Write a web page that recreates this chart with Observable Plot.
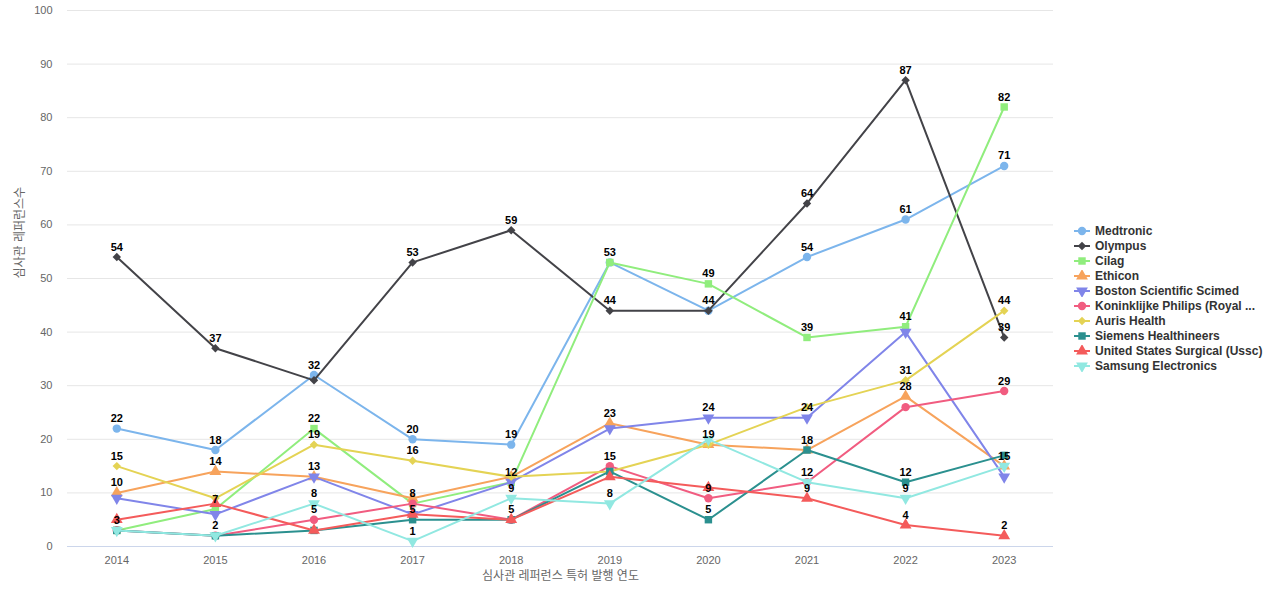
<!DOCTYPE html>
<html>
<head>
<meta charset="utf-8">
<script src="https://cdn.jsdelivr.net/npm/d3@7"></script>
<script src="https://cdn.jsdelivr.net/npm/@observablehq/plot@0.6"></script>
<style>
  html, body { margin: 0; padding: 0; background: #fff; }
  body { width: 1280px; height: 600px; position: relative; overflow: hidden;
         font-family: "Liberation Sans", Arial, "Noto Sans CJK KR", sans-serif; }
  #chart { position: absolute; left: 0; top: 0; }
  #legend { position: absolute; left: 1074px; top: 223px; }
  .item { display: flex; align-items: center; height: 15px; font-size: 12px; font-weight: bold; color: #333; white-space: nowrap; }
  .item svg { margin-right: 5px; }
</style>
</head>
<body>
<div id="chart"></div>
<div id="legend"></div>
<script>
const years = [2014, 2015, 2016, 2017, 2018, 2019, 2020, 2021, 2022, 2023];

const medtronic = [22, 18, 32, 20, 19, 53, 44, 54, 61, 71];
const olympus   = [54, 37, 31, 53, 59, 44, 44, 64, 87, 39];
const cilag     = [3, 7, 22, 8, 12, 53, 49, 39, 41, 82];
const ethicon   = [10, 14, 13, 9, 13, 23, 19, 18, 28, 15];
const boston    = [9, 6, 13, 6, 12, 22, 24, 24, 40, 13];
const philips   = [3, 2, 5, 8, 5, 15, 9, 12, 26, 29];
const auris     = [15, 9, 19, 16, 13, 14, 19, 26, 31, 44];
const siemens   = [3, 2, 3, 5, 5, 14, 5, 18, 12, 17];
const ussc      = [5, 8, 3, 6, 5, 13, 11, 9, 4, 2];
const samsung   = [3, 2, 8, 1, 9, 8, 20, 12, 9, 15];

const seriesNames = ["Medtronic", "Olympus", "Cilag", "Ethicon", "Boston Scientific Scimed",
  "Koninklijke Philips (Royal ...", "Auris Health", "Siemens Healthineers",
  "United States Surgical (Ussc)", "Samsung Electronics"];
const seriesValues = [medtronic, olympus, cilag, ethicon, boston, philips, auris, siemens, ussc, samsung];
const seriesColors = ["#7cb5ec", "#434348", "#90ed7d", "#f7a35c", "#8085e9",
  "#f15c80", "#e4d354", "#2b908f", "#f45b5b", "#91e8e1"];

const yTicks = [0, 10, 20, 30, 40, 50, 60, 70, 80, 90, 100];
const yTitle = "심사관 레퍼런스수";
const xTitle = "심사관 레퍼런스 특허 발행 연도";

const triangleDown = {
  draw(context, size) {
    const y = -Math.sqrt(size / (Math.sqrt(3) * 3));
    context.moveTo(0, -y * 2);
    context.lineTo(-Math.sqrt(3) * y, y);
    context.lineTo(Math.sqrt(3) * y, y);
    context.closePath();
  }
};
const symbolCycle = ["circle", "diamond2", "square", "triangle", triangleDown];
const symbolR = [4.2, 3.8, 4.2, 4.4, 4.4];

const rows = seriesNames.flatMap((name, s) =>
  years.map((year, i) => ({series: name, s, year, value: seriesValues[s][i]})));

// Hide labels that would overlap an earlier series' label (same year)
const labelRows = [];
years.forEach((year, i) => {
  const placed = [];
  seriesNames.forEach((name, s) => {
    const v = seriesValues[s][i];
    if (!placed.some(p => Math.abs(p - v) < 2.5)) {
      placed.push(v);
      labelRows.push({year, value: v});
    }
  });
});

const seriesMarks = seriesNames.flatMap((name, s) => {
  const data = rows.filter(d => d.s === s);
  return [
    Plot.line(data, {x: "year", y: "value", stroke: seriesColors[s], strokeWidth: 2}),
    Plot.dot(data, {x: "year", y: "value", fill: seriesColors[s], stroke: "none",
      symbol: symbolCycle[s % 5], r: symbolR[s % 5]})
  ];
});

const chart = Plot.plot({
  width: 1065,
  height: 600,
  marginLeft: 67,
  marginRight: 12,
  marginTop: 10,
  marginBottom: 54,
  style: {fontFamily: '"Liberation Sans", Arial, "Noto Sans CJK KR", sans-serif', background: "#fff"},
  x: {type: "point", domain: years, padding: 0.5, round: false},
  y: {domain: [0, 100]},
  marks: [
    Plot.gridY(yTicks.filter(t => t > 0), {stroke: "#e6e6e6", strokeOpacity: 1}),
    Plot.ruleY([0], {stroke: "#ccd6eb"}),
    Plot.axisY(yTicks, {tickSize: 0, tickPadding: 15, fontSize: 11, fill: "#666", label: null}),
    Plot.axisX(years, {tickSize: 0, tickPadding: 10, fontSize: 11, fill: "#666", label: null, tickFormat: d => String(d)}),
    Plot.text([yTitle], {frameAnchor: "left", dx: -47, rotate: -90, fontSize: 12, fill: "#666"}),
    Plot.text([xTitle], {frameAnchor: "bottom", dy: 33, fontSize: 12, fill: "#666"}),
    ...seriesMarks,
    Plot.text(labelRows, {x: "year", y: "value", text: d => String(d.value), dy: -10,
      fontSize: 11, fontWeight: "bold", fill: "#000"})
  ]
});
document.getElementById("chart").appendChild(chart);

// Legend
const legend = d3.select("#legend");
seriesNames.forEach((name, s) => {
  const item = legend.append("div").attr("class", "item");
  const svg = item.append("svg").attr("width", 16).attr("height", 12);
  svg.append("line").attr("x1", 0).attr("x2", 16).attr("y1", 6).attr("y2", 6)
    .attr("stroke", seriesColors[s]).attr("stroke-width", 2);
  const sym = symbolCycle[s % 5];
  const symObj = typeof sym === "string"
    ? {circle: d3.symbolCircle, diamond2: d3.symbolDiamond2, square: d3.symbolSquare, triangle: d3.symbolTriangle}[sym]
    : sym;
  const r = symbolR[s % 5];
  svg.append("path").attr("transform", "translate(8,6)")
    .attr("d", d3.symbol(symObj, Math.PI * r * r)())
    .attr("fill", seriesColors[s]);
  item.append("span").text(name);
});
</script>
</body>
</html>
